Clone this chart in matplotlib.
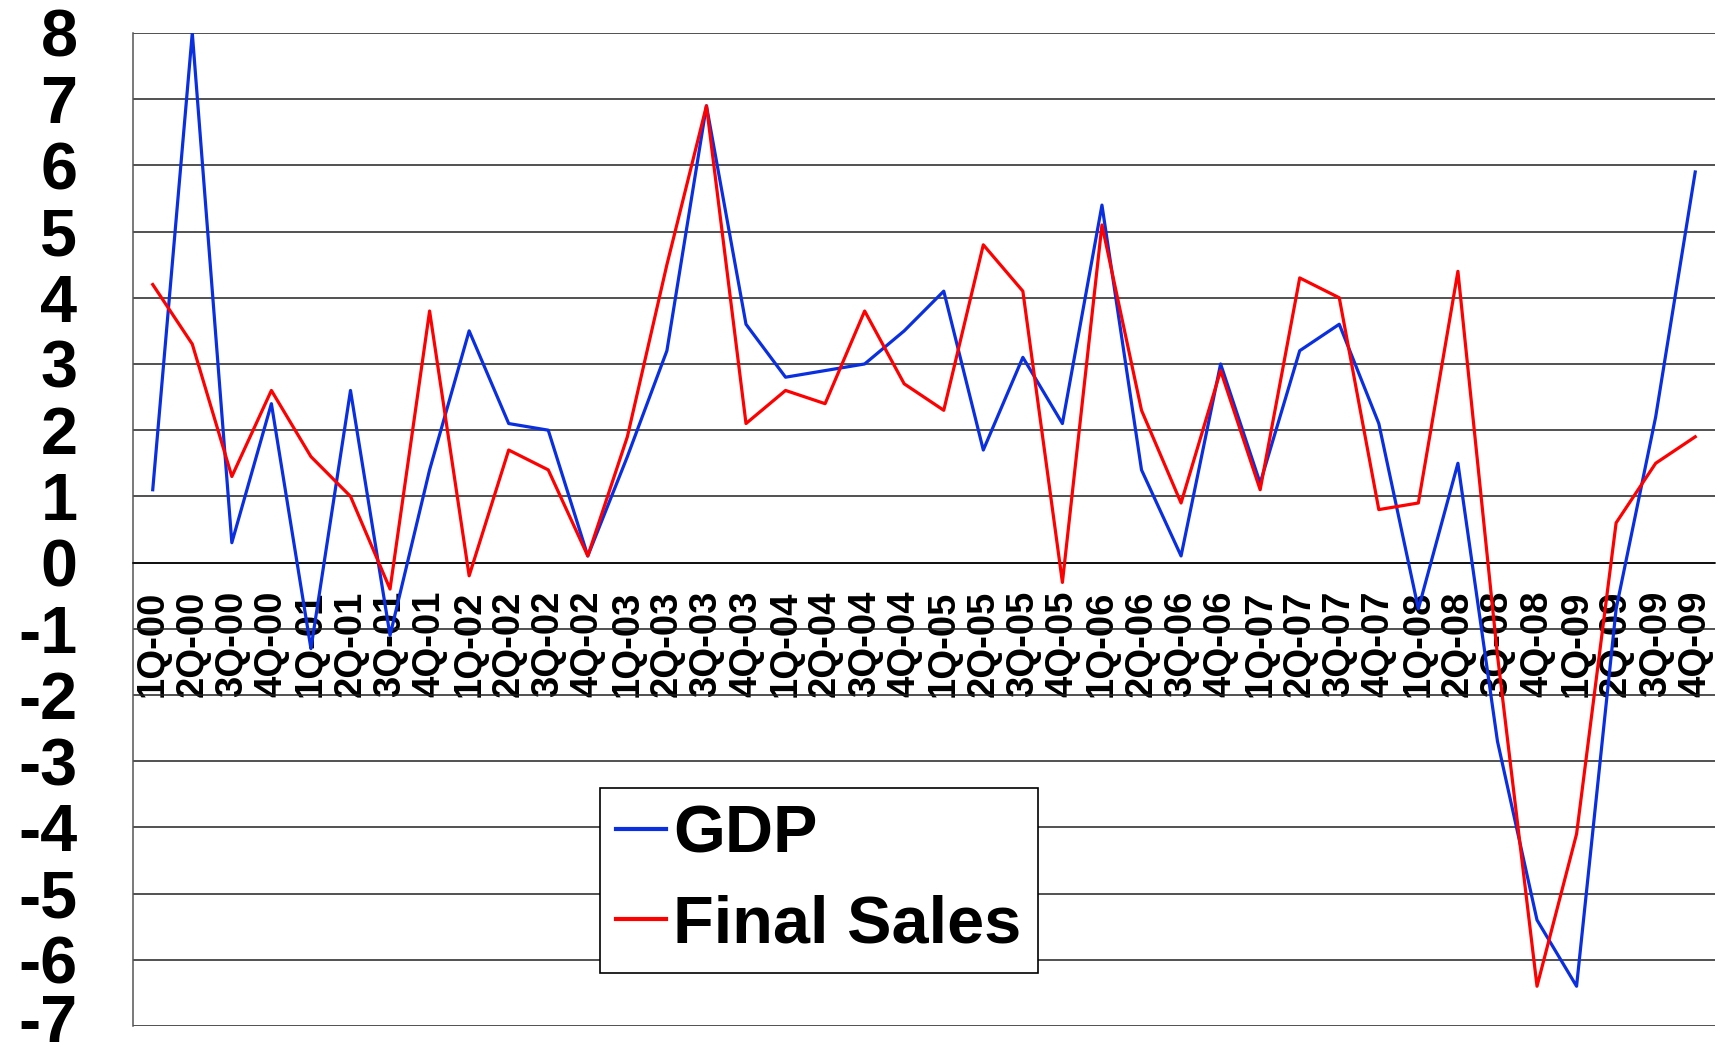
import matplotlib.pyplot as plt
import matplotlib.transforms as mtransforms

quarters = ["1Q-00", "2Q-00", "3Q-00", "4Q-00", "1Q-01", "2Q-01", "3Q-01", "4Q-01",
            "1Q-02", "2Q-02", "3Q-02", "4Q-02", "1Q-03", "2Q-03", "3Q-03", "4Q-03",
            "1Q-04", "2Q-04", "3Q-04", "4Q-04", "1Q-05", "2Q-05", "3Q-05", "4Q-05",
            "1Q-06", "2Q-06", "3Q-06", "4Q-06", "1Q-07", "2Q-07", "3Q-07", "4Q-07",
            "1Q-08", "2Q-08", "3Q-08", "4Q-08", "1Q-09", "2Q-09", "3Q-09", "4Q-09"]

gdp = [1.1, 8.0, 0.3, 2.4, -1.3, 2.6, -1.1, 1.4,
       3.5, 2.1, 2.0, 0.1, 1.6, 3.2, 6.9, 3.6,
       2.8, 2.9, 3.0, 3.5, 4.1, 1.7, 3.1, 2.1,
       5.4, 1.4, 0.1, 3.0, 1.2, 3.2, 3.6, 2.1,
       -0.7, 1.5, -2.7, -5.4, -6.4, -0.7, 2.2, 5.9]

final_sales = [4.2, 3.3, 1.3, 2.6, 1.6, 1.0, -0.4, 3.8,
               -0.2, 1.7, 1.4, 0.1, 1.9, 4.5, 6.9, 2.1,
               2.6, 2.4, 3.8, 2.7, 2.3, 4.8, 4.1, -0.3,
               5.1, 2.3, 0.9, 2.9, 1.1, 4.3, 4.0, 0.8,
               0.9, 4.4, -1.4, -6.4, -4.1, 0.6, 1.5, 1.9]

y_ticks = list(range(-7, 9))

plt.rcParams['font.family'] = ['Liberation Sans', 'DejaVu Sans']
plt.rcParams['font.weight'] = 'bold'

fig = plt.figure(figsize=(17.29, 10.5), dpi=100)
ax = fig.add_axes([0.0769, 0.0229, 0.915, 0.9457])

x = list(range(len(quarters)))
ax.plot(x, gdp, color='#0A2FE0', linewidth=2.3, label='GDP', zorder=3)
ax.plot(x, final_sales, color='#FF0000', linewidth=2.3, label='Final Sales', zorder=3)

ax.set_xlim(-0.5, len(quarters) - 0.5)
ax.set_ylim(-7, 8)

# horizontal gridlines
ax.set_yticks(y_ticks)
ax.set_yticklabels([str(v) for v in y_ticks], fontsize=48, fontweight='bold')
ax.yaxis.grid(True, color='#222222', linewidth=1.1)
ax.tick_params(axis='y', length=0, pad=40)

# lift the bottom label a touch so it stays inside the figure
bottom_label = ax.get_yticklabels()[0]
bottom_label.set_transform(bottom_label.get_transform()
                           + mtransforms.ScaledTranslation(0, 6 / 72, fig.dpi_scale_trans))

# category axis sits at zero, labels hang below it
ax.spines['bottom'].set_position(('data', 0))
ax.spines['bottom'].set_color('#000000')
ax.spines['bottom'].set_linewidth(1.1)
ax.spines['top'].set_visible(False)
ax.spines['right'].set_visible(False)
ax.spines['left'].set_color('#555555')
ax.spines['left'].set_linewidth(1.1)
ax.set_xticks(x)
ax.set_xticklabels(quarters, rotation=90, fontsize=27.5, fontweight='bold')
ax.tick_params(axis='x', length=0, pad=20)
ax.set_axisbelow(True)

leg = ax.legend(loc='lower left', bbox_to_anchor=(0.295, 0.053),
                prop={'weight': 'bold', 'size': 48}, handlelength=0.75,
                handletextpad=0.1, labelspacing=0.42, borderpad=0.25,
                borderaxespad=0, fancybox=False, framealpha=1)
leg.get_frame().set_edgecolor('black')
leg.get_frame().set_linewidth(1.2)
for line in leg.get_lines():
    line.set_linewidth(3)
leg.set_zorder(5)

plt.savefig('out.png', dpi=100)
